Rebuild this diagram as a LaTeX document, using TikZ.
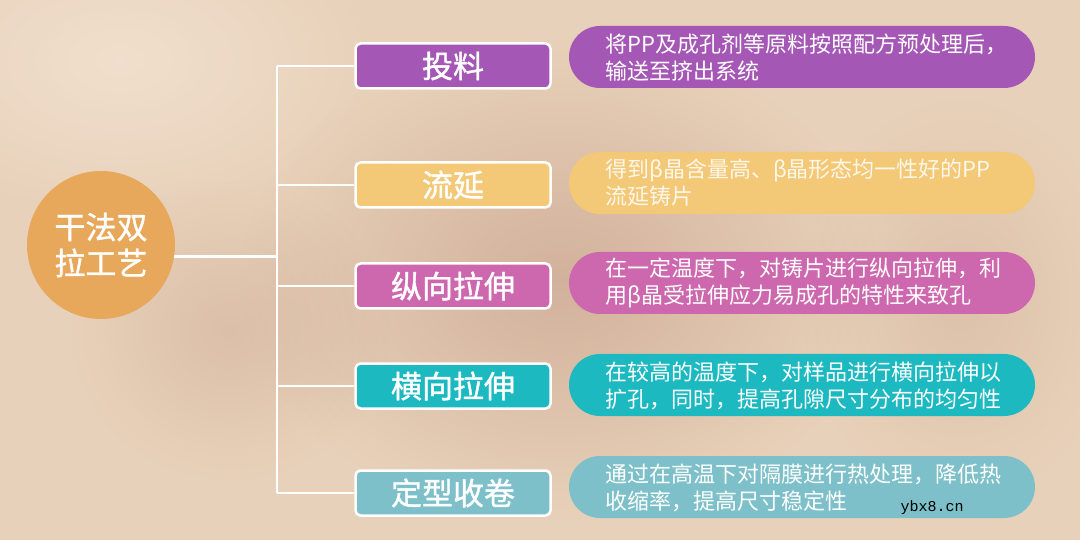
\documentclass[tikz,border=0pt]{standalone}
\usepackage{fontspec}
\newfontfamily\cjk{Noto Sans CJK SC}
\newfontfamily\cjkb[FakeBold=1.2]{Noto Sans CJK SC}
\usetikzlibrary{positioning,fadings}
\tikzfading[name=radfade, inner color=transparent!0, outer color=transparent!100]
\definecolor{bgc}{HTML}{E8D1BA}
\definecolor{bgdark}{HTML}{C9A48E}
\definecolor{bglight}{HTML}{F3E3D2}
\definecolor{orangec}{HTML}{E8A85B}
\definecolor{purplec}{HTML}{A557B6}
\definecolor{yellowc}{HTML}{F3C876}
\definecolor{pinkc}{HTML}{CD68AE}
\definecolor{tealc}{HTML}{1DB9C1}
\definecolor{lteal}{HTML}{7DC0C9}
\tikzset{
  stepbox/.style={draw=white, line width=2.5pt, rounded corners=5pt, minimum width=195pt, minimum height=45pt, inner sep=0pt, text=white, font=\cjkb\fontsize{31}{36}\selectfont},
  descpill/.style={rounded corners=31pt, minimum width=466pt, minimum height=62pt, inner sep=0pt},
  desctext/.style={anchor=west, align=left, inner sep=0pt, text=white, font=\cjk\fontsize{22}{27}\selectfont},
  wline/.style={draw=white, line width=2.5pt},
  blob/.style={path fading=radfade, fit fading=true}
}
\begin{document}
\begin{tikzpicture}[x=1pt,y=-1pt]
\useasboundingbox (0,0) rectangle (1080,540);
\fill[bgc] (0,0) rectangle (1080,540);
\fill[bglight, blob, opacity=0.8] (120,60) ellipse (260 and 160);
\fill[bgdark, blob, opacity=0.7] (560,280) ellipse (320 and 240);
\fill[bgdark, blob, opacity=0.4] (230,330) ellipse (160 and 150);
\fill[bgdark, blob, opacity=0.35] (960,300) ellipse (160 and 200);

% root
\node[circle, fill=orangec, minimum size=148pt, inner sep=0pt, align=center, text=white, font=\cjkb\fontsize{31}{36}\selectfont] (root) at (101,245) {干法双\\拉工艺};

% step boxes
\node[stepbox, fill=purplec] (b1) at (453,66) {投料};
\node[stepbox, fill=yellowc] (b2) at (453,185) {流延};
\node[stepbox, fill=pinkc] (b3) at (453,286) {纵向拉伸};
\node[stepbox, fill=tealc] (b4) at (453,386) {横向拉伸};
\node[stepbox, fill=lteal] (b5) at (453,493) {定型收卷};

% description pills
\node[descpill, fill=purplec] (d1) at (802,57) {};
\node[descpill, fill=yellowc] (d2) at (802,183) {};
\node[descpill, fill=pinkc] (d3) at (802,283) {};
\node[descpill, fill=tealc] (d4) at (802,385) {};
\node[descpill, fill=lteal] (d5) at (802,487) {};

\node[desctext] (t1) at (605,58) {将PP及成孔剂等原料按照配方预处理后，\\输送至挤出系统};
\node[desctext, text=white!85!yellowc] (t2) at (605,183) {得到β晶含量高、β晶形态均一性好的PP\\流延铸片};
\node[desctext] (t3) at (605,283) {在一定温度下，对铸片进行纵向拉伸，利\\用β晶受拉伸应力易成孔的特性来致孔};
\node[desctext] (t4) at (605,386) {在较高的温度下，对样品进行横向拉伸以\\扩孔，同时，提高孔隙尺寸分布的均匀性};
\node[desctext] (t5) at (605,488) {通过在高温下对隔膜进行热处理，降低热\\收缩率，提高尺寸稳定性};

% connectors
\coordinate (trunk) at (277,255);
\draw[wline] (root.-9) -- (root.-9 -| trunk);
\draw[wline] (b1.west -| trunk) -- (b5.west -| trunk);
\draw[wline] (b1.west) -- (b1.west -| trunk);
\draw[wline] (b2.west) -- (b2.west -| trunk);
\draw[wline] (b3.west) -- (b3.west -| trunk);
\draw[wline] (b4.west) -- (b4.west -| trunk);
\draw[wline] (b5.west) -- (b5.west -| trunk);

% watermark
\node[font=\fontspec{Liberation Mono}\fontsize{15}{15}\selectfont, text=black, inner sep=0pt] (wm) at (932,508) {ybx8.cn};
\end{tikzpicture}
\end{document}
